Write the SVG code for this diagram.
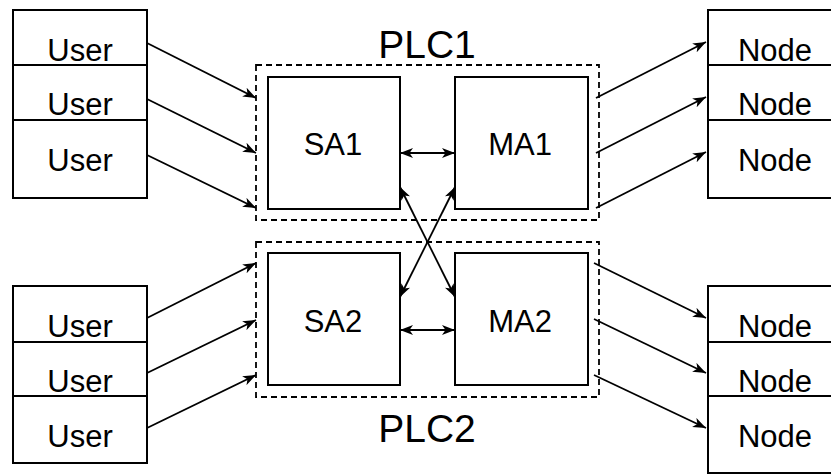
<svg xmlns="http://www.w3.org/2000/svg" width="831" height="474" viewBox="0 0 831 474">
<style>
.box{fill:#fff;stroke:#000;stroke-width:2}
.grp{fill:none;stroke:#000;stroke-width:1.8;stroke-dasharray:6 4}
.t{font-family:"Liberation Sans",Arial,sans-serif;font-size:31px;fill:#000;text-anchor:middle}
.big{font-size:39px}
.c{fill:none;stroke:#000;stroke-width:1.8}
</style>
<defs>
<marker id="ah" markerUnits="userSpaceOnUse" markerWidth="14" markerHeight="11" refX="13" refY="5" orient="auto-start-reverse" viewBox="0 0 14 10">
<path d="M0,0 L13,5 L0,10 L3.5,5 Z" fill="#000"/>
</marker>
</defs>
<rect width="831" height="474" fill="#fff"/>
<g id="plc1">
<rect class="grp" x="256" y="65" width="343" height="155"/>
<text class="t big" x="427" y="58">PLC1</text>
</g>
<g id="plc2">
<rect class="grp" x="256" y="242" width="343" height="155"/>
<text class="t big" x="427" y="442">PLC2</text>
</g>
<g id="sa1"><rect class="box" x="268" y="77" width="132" height="132"/><text class="t" x="333" y="155">SA1</text></g>
<g id="ma1"><rect class="box" x="455" y="77" width="133" height="132"/><text class="t" x="520" y="155">MA1</text></g>
<g id="sa2"><rect class="box" x="268" y="253" width="132" height="132"/><text class="t" x="333" y="332">SA2</text></g>
<g id="ma2"><rect class="box" x="455" y="253" width="133" height="132"/><text class="t" x="520" y="332">MA2</text></g>
<g id="user1"><rect class="box" x="13" y="10" width="134" height="55"/><text class="t" x="80" y="61">User</text></g>
<g id="user2"><rect class="box" x="13" y="65" width="134" height="55"/><text class="t" x="80" y="115">User</text></g>
<g id="user3"><rect class="box" x="13" y="120" width="134" height="78"/><text class="t" x="80" y="171">User</text></g>
<g id="user4"><rect class="box" x="13" y="286" width="134" height="56"/><text class="t" x="80" y="337">User</text></g>
<g id="user5"><rect class="box" x="13" y="342" width="134" height="54"/><text class="t" x="80" y="392">User</text></g>
<g id="user6"><rect class="box" x="13" y="396" width="134" height="67"/><text class="t" x="80" y="447">User</text></g>
<g id="node1"><rect class="box" x="708" y="10" width="134" height="55"/><text class="t" x="775" y="61">Node</text></g>
<g id="node2"><rect class="box" x="708" y="65" width="134" height="55"/><text class="t" x="775" y="115">Node</text></g>
<g id="node3"><rect class="box" x="708" y="120" width="134" height="78"/><text class="t" x="775" y="171">Node</text></g>
<g id="node4"><rect class="box" x="708" y="286" width="134" height="56"/><text class="t" x="775" y="337">Node</text></g>
<g id="node5"><rect class="box" x="708" y="342" width="134" height="54"/><text class="t" x="775" y="392">Node</text></g>
<g id="node6"><rect class="box" x="708" y="396" width="134" height="77"/><text class="t" x="775" y="447">Node</text></g>
<g id="connectors" class="c">
<path class="c" d="M147,43 L256,98" marker-end="url(#ah)"/>
<path class="c" d="M147,99 L256,153" marker-end="url(#ah)"/>
<path class="c" d="M147,155 L256,208" marker-end="url(#ah)"/>
<path class="c" d="M147,318 L256,263" marker-end="url(#ah)"/>
<path class="c" d="M147,373 L256,320" marker-end="url(#ah)"/>
<path class="c" d="M147,428 L256,375" marker-end="url(#ah)"/>
<path class="c" d="M596,98 L706,42" marker-end="url(#ah)"/>
<path class="c" d="M596,153 L706,97" marker-end="url(#ah)"/>
<path class="c" d="M596,208 L706,152" marker-end="url(#ah)"/>
<path class="c" d="M594,263 L706,318" marker-end="url(#ah)"/>
<path class="c" d="M594,319 L706,373" marker-end="url(#ah)"/>
<path class="c" d="M594,375 L706,428" marker-end="url(#ah)"/>
<path class="c" d="M400,153 L455,153" marker-start="url(#ah)" marker-end="url(#ah)"/>
<path class="c" d="M400,330 L455,330" marker-start="url(#ah)" marker-end="url(#ah)"/>
<path class="c" d="M400,187 L455,297" marker-start="url(#ah)" marker-end="url(#ah)"/>
<path class="c" d="M455,187 L400,297" marker-start="url(#ah)" marker-end="url(#ah)"/>
</g>
</svg>
